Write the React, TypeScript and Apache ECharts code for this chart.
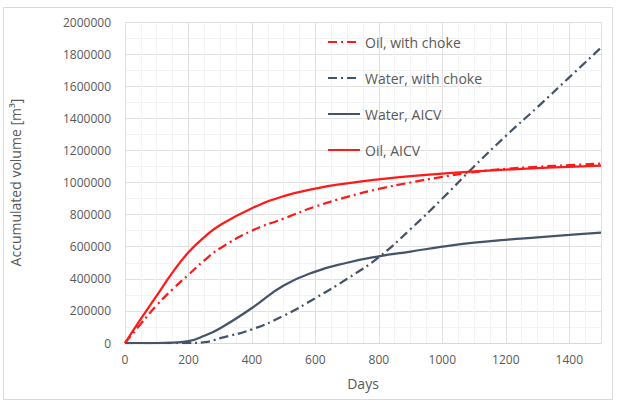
import React, { useEffect, useRef } from "react";
import * as echarts from "echarts";

const days = [0, 50, 100, 150, 200, 250, 300, 400, 500, 600, 700, 800, 900, 1000, 1100, 1200, 1300, 1400, 1500];
const oilChoke = [0, 120000, 235000, 335000, 425000, 515000, 590000, 700000, 775000, 850000, 910000, 960000, 1000000, 1035000, 1065000, 1085000, 1098000, 1108000, 1118000];
const waterChoke = [0, 0, 0, 0, 0, 5000, 30000, 85000, 170000, 280000, 400000, 535000, 710000, 900000, 1100000, 1290000, 1470000, 1655000, 1840000];
const waterAicv = [0, 0, 0, 3000, 12000, 45000, 92000, 218000, 358000, 445000, 500000, 540000, 570000, 600000, 625000, 643000, 658000, 673000, 688000];
const oilAicv = [0, 150000, 295000, 440000, 565000, 660000, 735000, 840000, 915000, 962000, 995000, 1020000, 1040000, 1055000, 1070000, 1080000, 1090000, 1098000, 1105000];

const seriesNames = ["Oil, with choke", "Water, with choke", "Water, AICV", "Oil, AICV"];
const RED = "#FF1A1A";
const BLUE = "#44546A";
const TEXT = "#595959";
const FONT = "Open Sans";

const pairs = (ys: number[]) => days.map((d, i) => [d, ys[i]]);

export default function App() {
  const ref = useRef<HTMLDivElement>(null);
  useEffect(() => {
    if (!ref.current) return;
    const chart = echarts.init(ref.current, undefined, { renderer: "svg" });
    const dashDot = [9, 4, 2, 4];
    const mk = (i: number, ys: number[], color: string, dashed: boolean) => ({
      name: seriesNames[i],
      type: "line",
      smooth: true,
      showSymbol: false,
      symbol: "none",
      data: pairs(ys),
      color,
      lineStyle: { color, width: 2.25, type: dashed ? dashDot : "solid" },
    });
    chart.setOption({
      animation: false,
      backgroundColor: "#ffffff",
      textStyle: { fontFamily: FONT },
      graphic: [
        {
          type: "rect",
          shape: { x: 3.5, y: 7.5, width: 609, height: 392 },
          style: { fill: "none", stroke: "#d9d9d9", lineWidth: 1 },
          silent: true,
        },
      ],
      grid: { left: 121, right: 21, top: 22, bottom: 62 },
      legend: {
        left: 322,
        top: 30,
        orient: "vertical",
        itemWidth: 32,
        itemHeight: 14,
        itemGap: 22,
        data: seriesNames,
        itemStyle: { opacity: 0 },
        textStyle: { color: TEXT, fontSize: 14, fontFamily: FONT },
      },
      xAxis: {
        type: "value",
        min: 0,
        max: 1500,
        interval: 200,
        name: "Days",
        nameLocation: "middle",
        nameGap: 33,
        nameTextStyle: { color: TEXT, fontSize: 14, fontFamily: FONT },
        axisLine: { show: true, lineStyle: { color: "#d9d9d9" } },
        axisTick: { show: false },
        axisLabel: {
          color: TEXT,
          fontSize: 12,
          fontFamily: FONT,
          margin: 10,
          showMaxLabel: false,
          formatter: (v: number) => String(v),
        },
        splitLine: { show: true, lineStyle: { color: "#e0e0e0" } },
        minorTick: { show: false, splitNumber: 4 },
        minorSplitLine: { show: true, lineStyle: { color: "#f3f3f3" } },
      },
      yAxis: {
        type: "value",
        min: 0,
        max: 2000000,
        interval: 200000,
        name: "Accumulated volume [m³]",
        nameLocation: "middle",
        nameGap: 103,
        nameTextStyle: { color: TEXT, fontSize: 14, fontFamily: FONT },
        axisLine: { show: false },
        axisTick: { show: false },
        axisLabel: {
          color: TEXT,
          fontSize: 12,
          fontFamily: FONT,
          margin: 14,
          formatter: (v: number) => String(v),
        },
        splitLine: { show: true, lineStyle: { color: "#e0e0e0" } },
        minorTick: { show: false, splitNumber: 2 },
        minorSplitLine: { show: true, lineStyle: { color: "#f3f3f3" } },
      },
      series: [
        mk(0, oilChoke, RED, true),
        mk(1, waterChoke, BLUE, true),
        mk(2, waterAicv, BLUE, false),
        mk(3, oilAicv, RED, false),
      ],
    });
    return () => chart.dispose();
  }, []);
  return (
    <div
      ref={ref}
      style={{ position: "fixed", left: 0, top: 0, width: 622, height: 405 }}
    />
  );
}
